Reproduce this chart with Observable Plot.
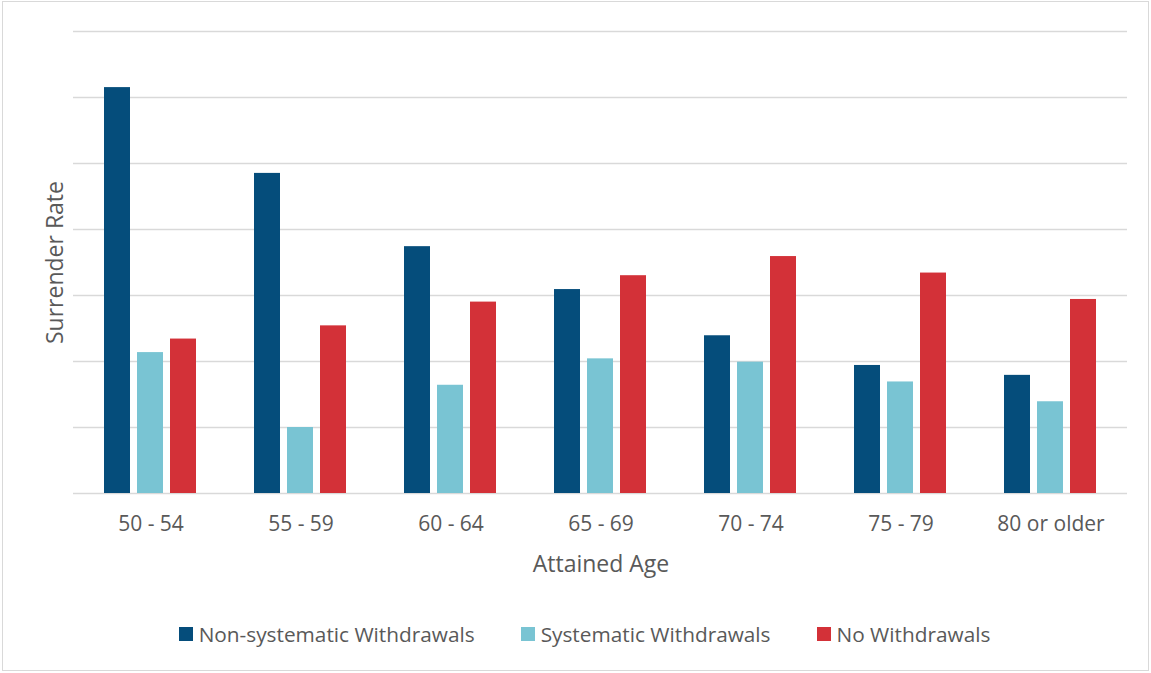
<!DOCTYPE html>
<html>
<head>
<meta charset="utf-8">
<script src="https://cdn.jsdelivr.net/npm/d3@7"></script>
<script src="https://cdn.jsdelivr.net/npm/@observablehq/plot@0.6"></script>
<style>
  html, body { margin: 0; padding: 0; background: white; }
  #wrap { position: relative; width: 1151px; height: 673px; overflow: hidden; font-family: "Open Sans", sans-serif; color: #595959; }
  #border { position: absolute; left: 2px; top: 1px; width: 1145px; height: 668px; border: 1.5px solid #d9d9d9; pointer-events: none; }
  .layer { position: absolute; left: 0; top: 0; }
  #legend { position: absolute; left: 9px; top: 620px; width: 1151px; display: flex; justify-content: center; align-items: center; font-size: 20.8px; line-height: 28px; }
  .item { display: flex; align-items: center; margin: 0 23px; }
  .sw { width: 14px; height: 14px; margin-right: 6px; }
</style>
</head>
<body>
<div id="wrap">
  <div id="grid" class="layer"></div>
  <div id="chart" class="layer"></div>
  <div id="legend"></div>
  <div id="border"></div>
</div>
<script>
const ages = ["50 - 54", "55 - 59", "60 - 64", "65 - 69", "70 - 74", "75 - 79", "80 or older"];
const seriesNames = ["Non-systematic Withdrawals", "Systematic Withdrawals", "No Withdrawals"];
const seriesColors = ["#054d7b", "#79c4d3", "#d33138"];
const nonSystematic = [6.15, 4.85, 3.74, 3.09, 2.39, 1.94, 1.79];
const systematic = [2.135, 1.0, 1.64, 2.04, 1.99, 1.69, 1.39];
const noWithdrawals = [2.34, 2.54, 2.90, 3.30, 3.59, 3.34, 2.94];
const gridTicks = [0, 1, 2, 3, 4, 5, 6, 7];

const seriesValues = [nonSystematic, systematic, noWithdrawals];
const data = ages.flatMap((age, i) =>
  seriesNames.map((s, j) => ({age, series: s, value: seriesValues[j][i]}))
);

const common = {
  width: 1151,
  height: 610,
  marginTop: 31,
  marginLeft: 73,
  marginRight: 24,
  marginBottom: 117,
  style: {fontFamily: "Open Sans, sans-serif", color: "#595959", background: "transparent"}
};

// Background layer: horizontal gridlines and the y-axis title
const grid = Plot.plot({
  ...common,
  y: {domain: [0, 7], axis: null},
  marks: [
    Plot.ruleY(gridTicks, {y: d => d, stroke: "#d9d9d9", strokeWidth: 1.5}),
    Plot.axisY({anchor: "left", ticks: [], label: "Surrender Rate", labelAnchor: "center", labelArrow: "none", labelOffset: 27, fontSize: 23})
  ]
});
document.getElementById("grid").appendChild(grid);

// Foreground layer: grouped bars
const chart = Plot.plot({
  ...common,
  fx: {domain: ages, paddingInner: 0.288, paddingOuter: 0.144, label: null},
  x: {domain: seriesNames, padding: 0.2, axis: null},
  y: {domain: [0, 7], axis: null},
  color: {domain: seriesNames, range: seriesColors},
  marks: [
    Plot.barY(data, {fx: "age", x: "series", y: "value", fill: "series"}),
    Plot.axisFx({anchor: "bottom", tickSize: 0, tickPadding: 23, fontSize: 21, label: null}),
    Plot.axisFx({anchor: "bottom", tickSize: 0, tickFormat: () => "", label: "Attained Age", labelAnchor: "center", labelOffset: 78, fontSize: 23})
  ]
});
document.getElementById("chart").appendChild(chart);

const legend = document.getElementById("legend");
seriesNames.forEach((name, i) => {
  const item = document.createElement("div");
  item.className = "item";
  const sw = document.createElement("div");
  sw.className = "sw";
  sw.style.background = seriesColors[i];
  const label = document.createElement("span");
  label.textContent = name;
  item.appendChild(sw);
  item.appendChild(label);
  legend.appendChild(item);
});
</script>
</body>
</html>
